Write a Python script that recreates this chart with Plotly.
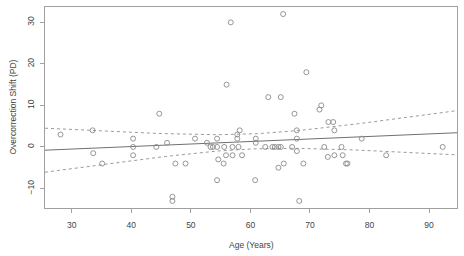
import numpy as np
import plotly.graph_objects as go

age = [28.1, 33.5, 33.6, 35.1, 40.3, 40.3, 40.3, 44.2, 44.7, 46.0,
       46.9, 46.9, 47.4, 49.1, 50.7, 52.7, 53.3, 53.7, 54.4, 54.4,
       54.6, 54.4, 55.5, 55.6, 55.9, 56.0, 56.7, 57.0, 57.0, 57.8,
       57.8, 58.0, 58.2, 58.6, 60.8, 60.9, 60.9, 62.5, 63.0, 63.7,
       64.1, 64.7, 65.1, 64.7, 65.1, 65.5, 65.6, 67.0, 67.4, 67.8,
       67.8, 67.8, 68.2, 68.9, 69.4, 71.6, 71.9, 72.4, 73.0, 73.1,
       73.9, 74.1, 74.1, 75.3, 75.5, 76.05, 76.3, 78.7, 82.8, 92.3]
shift = [3, 4, -1.5, -4, 2, 0, -2, 0, 8, 1,
         -12, -13, -4, -4, 2, 1, 0, 0, 2, 0,
         -3, -8, -4, 0, -2, 15, 30, 0, -2, 3,
         2, 0, 4, -2, -8, 2, 1, 0, 12, 0,
         0, 0, 0, -5, 12, 32, -4, 0, 8, 4,
         2, -1, -13, -4, 18, 9, 10, 0, -2.4, 6,
         6, 4, -2, 0, -2, -4, -4, 2, -2, 0]

x_ticks = [30, 40, 50, 60, 70, 80, 90]
y_ticks = [-10, 0, 10, 20, 30]
x_range = [25.5, 94.7]
y_range = [-14.7, 33.7]

xa = np.array(age)
ya = np.array(shift)
n = len(xa)
b1, b0 = np.polyfit(xa, ya, 1)
resid = ya - (b0 + b1 * xa)
s = np.sqrt(np.sum(resid ** 2) / (n - 2))
xm = xa.mean()
sxx = np.sum((xa - xm) ** 2)
t = 1.995
xs = np.linspace(x_range[0], x_range[1], 100)
fit = b0 + b1 * xs
se = s * np.sqrt(1.0 / n + (xs - xm) ** 2 / sxx)
upper = fit + t * se
lower = fit - t * se

FONT = "Liberation Sans, Arial, sans-serif"
TXT = "#444444"

fig = go.Figure()
fig.add_trace(go.Scatter(x=xs, y=upper, mode="lines",
                         line=dict(color="#9a9a9a", width=1, dash="dot"),
                         hoverinfo="skip"))
fig.add_trace(go.Scatter(x=xs, y=lower, mode="lines",
                         line=dict(color="#9a9a9a", width=1, dash="dot"),
                         hoverinfo="skip"))
fig.add_trace(go.Scatter(x=xs, y=fit, mode="lines",
                         line=dict(color="#707070", width=1),
                         hoverinfo="skip"))
fig.add_trace(go.Scatter(x=age, y=shift, mode="markers",
                         marker=dict(symbol="circle-open", size=5,
                                     color="#8a8a8a",
                                     line=dict(width=0.9, color="#8a8a8a"))))

axis_common = dict(showgrid=False, zeroline=False, showline=True, mirror=True,
                   linecolor="#a0a0a0", linewidth=1, ticks="outside",
                   ticklen=4, tickcolor="#a0a0a0", automargin=False,
                   tickfont=dict(family=FONT, size=8.5, color=TXT))
fig.update_layout(
    width=464, height=256,
    margin=dict(l=45, r=7, t=7, b=48),
    paper_bgcolor="white", plot_bgcolor="white",
    showlegend=False,
    xaxis=dict(range=x_range, tickvals=x_ticks, ticklabelstandoff=5,
               **axis_common),
    yaxis=dict(range=y_range, tickvals=y_ticks, tickangle=-90,
               ticklabelstandoff=3, **axis_common),
    annotations=[
        dict(text="Age (Years)", xref="paper", yref="paper", x=0.5, y=0,
             xanchor="center", yanchor="middle", yshift=-37, showarrow=False,
             font=dict(family=FONT, size=8.5, color=TXT)),
        dict(text="Overcorrection Shift (PD)", xref="paper", yref="paper",
             x=0, y=0.5, xanchor="center", yanchor="middle", xshift=-33,
             textangle=-90, showarrow=False,
             font=dict(family=FONT, size=8.5, color=TXT)),
    ],
)
fig.write_html("out.html",
               config={"displayModeBar": False},
               post_script="document.body.style.margin='0';"
                           "document.body.style.overflow='hidden';")
